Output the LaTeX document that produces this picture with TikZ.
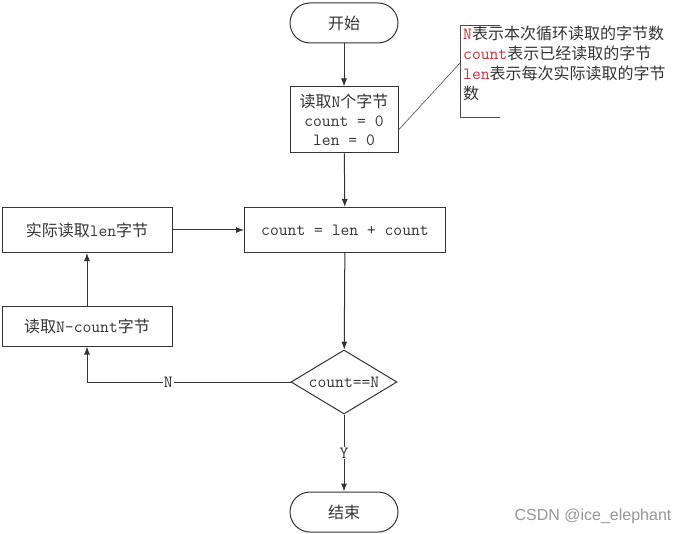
\documentclass[tikz,border=0pt]{standalone}
\usepackage{fontspec}
\setmainfont{Noto Sans CJK SC}
\setmonofont[Scale=1.07]{Latin Modern Mono}
\newfontfamily\wmfont{Liberation Sans}
\usetikzlibrary{shapes.geometric,arrows.meta}
\definecolor{notered}{RGB}{205,45,55}
\definecolor{wmgray}{RGB}{150,150,150}
\newcommand{\red}[1]{\textcolor{notered}{\texttt{#1}}}

\begin{document}
\begin{tikzpicture}
        [x=1pt,y=-1pt,>={Latex[length=8pt,width=6pt]},
         every node/.style={font=\fontsize{16}{20}\selectfont, text=black!80},
         box/.style={draw=black!80, line width=1pt, inner sep=2pt},
         pill/.style={box, rounded corners=20pt, minimum width=108pt, minimum height=40pt},
         cond/.style={box, diamond, inner sep=0pt, minimum width=106pt, minimum height=64pt, aspect=1.66},
         flow/.style={draw=black!80, line width=1pt, ->}]
        \useasboundingbox (0,0) rectangle (692,534);
        %-----nodes
         \node[pill] (start) at (344,23) {开始};
         \node[box, minimum width=108pt, minimum height=66pt, align=center] (init) at (344,120)
              {读取\texttt{N}个字节\\[-1pt]\texttt{count = 0}\\[-1pt]\texttt{len = 0}};
         \node[box, minimum width=201pt, minimum height=45pt] (sum) at (345,230) {\texttt{count = len + count}};
         \node[box, minimum width=170pt, minimum height=45pt] (readlen) at (87,230) {实际读取\texttt{len}字节};
         \node[box, minimum width=170pt, minimum height=40pt] (readrest) at (87,326) {读取\texttt{N-count}字节};
         \node[cond] (check) at (344,382) {\texttt{count==N}};
         \node[pill] (stop) at (344,512) {结束};

         % note
         \node[anchor=north west, inner sep=0pt, align=left] (note) at (463,26)
              {\red{N}表示本次循环读取的字节数\\\red{count}表示已经读取的字节\\\red{len}表示每次实际读取的字节\\数};
         \coordinate (nb) at (460,63);
         \draw[draw=black!70, line width=0.8pt] (500,25) -- (460,25) -- (460,117) -- (500,117);
         \draw[draw=black!70, line width=0.6pt] ([yshift=-10pt]init.east) -- (nb);

         \foreach \from/\to in {start/init, init/sum, sum/check, readlen/sum, readrest/readlen}
         \draw[flow] (\from) -- (\to);

         \draw[flow] (check) -- node[fill=white, inner sep=1pt] {\texttt{Y}} (stop);
         \draw[flow] (check.west) -- node[pos=0.6, fill=white, inner sep=1pt] {\texttt{N}} (readrest.south |- check.west) -- (readrest.south);

         \node[font=\wmfont\fontsize{16}{18}\selectfont, text=wmgray] (mark) at (593,516) {CSDN @ice\_elephant};
        \end{tikzpicture}
\end{document}
